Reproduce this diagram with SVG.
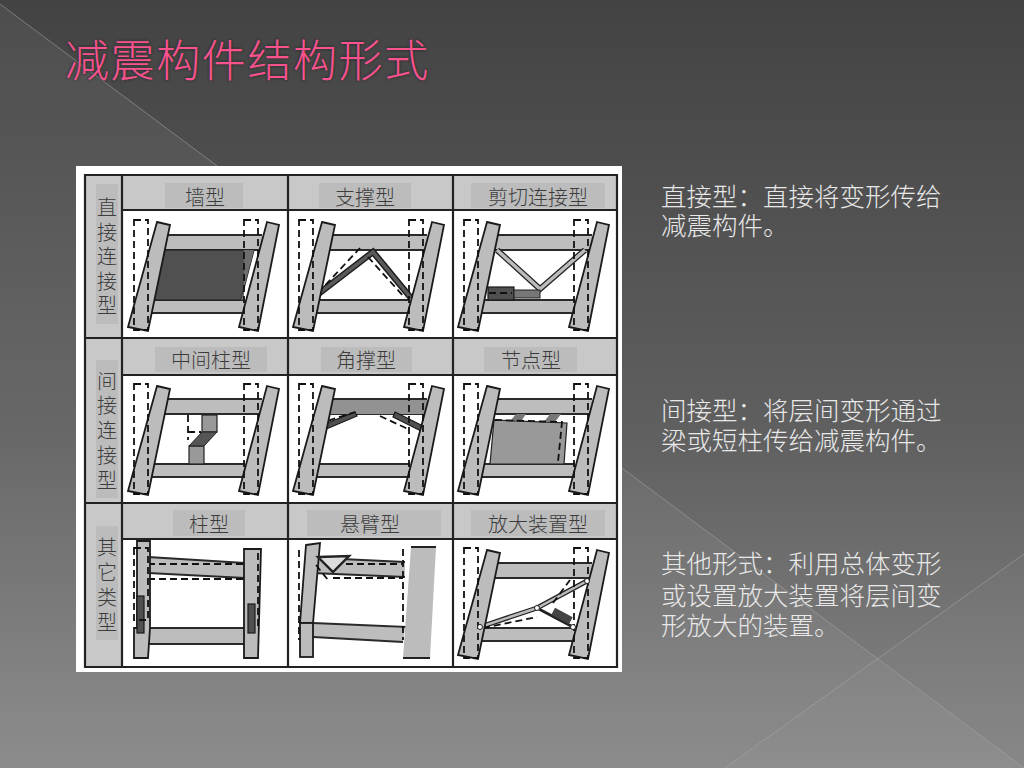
<svg xmlns="http://www.w3.org/2000/svg" width="1024" height="768" viewBox="0 0 1024 768">
<style>
.body{font-family:"Noto Sans CJK SC","Noto Sans CJK JP",serif;font-size:25.5px;fill:#e8e8e8;font-weight:300}
.hd{font-family:"Noto Sans CJK SC","Noto Sans CJK JP",serif;font-size:20px;fill:#3c3c3c;text-anchor:middle;font-weight:300}
.ttl{font-family:"Noto Sans CJK SC",sans-serif;font-size:44px;letter-spacing:1.6px;font-weight:300}
.grid{fill:none;stroke:#222;stroke-width:2.2}
.c{fill:#bcbcbc;stroke:#1a1a1a;stroke-width:1.8}
.b{fill:#bdbdbd;stroke:none}
.e{stroke:#2a2a2a;stroke-width:1.8;fill:none}
.d{fill:none;stroke:#111;stroke-width:1.8;stroke-dasharray:7 4}
.dk{fill:#505050;stroke:#1a1a1a;stroke-width:1.2}
.md{fill:#999;stroke:#222;stroke-width:1.2}
</style>
<defs>
<linearGradient id="bg" x1="0" y1="0" x2="0" y2="1"><stop offset="0" stop-color="#434343"/><stop offset=".26" stop-color="#505050"/><stop offset=".57" stop-color="#606060"/><stop offset="1" stop-color="#868686"/></linearGradient>
<filter id="glow" x="-5%" y="-20%" width="110%" height="140%"><feGaussianBlur stdDeviation="1.4"/></filter>
<g id="beams">
<polygon class="b" points="157,235 262,235 262,250 157,250"/>
<path class="e" d="M157,235H262M150,250H262"/>
<polygon class="b" points="148,300 245,300 245,313 148,313"/>
<path class="e" d="M148,300H245M148,313H245"/>
</g>
<g id="columns">
<polygon class="c" points="157,222 170,225 148,331 128,327"/>
<polygon class="c" points="267,222 279,225 258,331 239,327"/>
<rect class="d" x="134" y="220" width="14" height="110"/>
<rect class="d" x="244" y="220" width="14" height="110"/>
</g>
</defs>
<rect id="background" width="1024" height="768" fill="url(#bg)"/>
<polygon points="0,4 1024,768 0,768" fill="#fff" opacity=".055"/>
<polygon points="1024,554 725,768 1024,768" fill="#fff" opacity=".025"/>
<path d="M0,4L1024,768M1024,554L725,768" fill="none" stroke="#a8a8a8" stroke-width="1" opacity=".55"/>
<g id="title">
<text x="65" y="77" class="ttl" fill="#1c1c1c" filter="url(#glow)" opacity=".8">减震构件结构形式</text>
<text x="65" y="77" class="ttl" fill="#f8528f">减震构件结构形式</text>
</g>
<g id="table">
<rect x="76" y="166" width="546" height="506" fill="#fff"/>
<rect x="86" y="175" width="36" height="492" fill="#c8c8c8"/>
<path fill="#c8c8c8" d="M122,175H617V210H122ZM122,339H617V375H122ZM122,503H617V539H122Z"/>
<path fill="#bcbcbc" d="M96,184H118V324H96ZM96,360H118V498H96ZM96,526H118V640H96ZM165,183H243V208H165ZM319,183H411V208H319ZM471,183H605V208H471ZM155,347H267V372H155ZM321,347H412V372H321ZM484,347H577V372H484ZM173,510H245V536H173ZM307,510H441V536H307ZM471,510H605V536H471Z"/>
<path class="grid" d="M85,175H617V667H85ZM122,175V667M288,175V667M453,175V667M85,338H617M85,503H617M122,210H617M122,375H617M122,539H617"/>
<g class="hd"><text x="205" y="205">墙型</text><text x="365" y="205">支撑型</text><text x="538" y="205">剪切连接型</text><text x="211" y="368">中间柱型</text><text x="366" y="368">角撑型</text><text x="531" y="368">节点型</text><text x="209" y="532">柱型</text><text x="370" y="532">悬臂型</text><text x="538" y="532">放大装置型</text>
<text x="107" y="215"><tspan x="107" y="215">直</tspan><tspan x="107" y="240">接</tspan><tspan x="107" y="264">连</tspan><tspan x="107" y="289">接</tspan><tspan x="107" y="313">型</tspan></text>
<text x="107" y="389"><tspan x="107" y="389">间</tspan><tspan x="107" y="413">接</tspan><tspan x="107" y="438">连</tspan><tspan x="107" y="463">接</tspan><tspan x="107" y="488">型</tspan></text>
<text x="107" y="555"><tspan x="107" y="555">其</tspan><tspan x="107" y="580">它</tspan><tspan x="107" y="605">类</tspan><tspan x="107" y="630">型</tspan></text></g>
</g>
<g id="wall-type"><use href="#beams"/><polygon class="dk" points="165,250 254,250 241,300 153,300"/><polygon points="254,250 244,250 244,300 241,300" fill="#6d6d6d"/><use href="#columns"/></g>
<g id="brace-type"><use href="#beams" x="165"/>
<path d="M313,298L373,252L411,298" fill="none" stroke="#1e1e1e" stroke-width="6.5"/><path d="M313,298L373,252L411,298" fill="none" stroke="#5a5a5a" stroke-width="3.5"/>
<path d="M318,293L360,248M368,257L405,298" class="d"/><use href="#columns" x="165"/></g>
<g id="shear-link-type"><use href="#beams" x="330"/>
<path d="M497,250L540,289L585,250" fill="none" stroke="#222" stroke-width="6"/><path d="M497,250L540,289L585,250" fill="none" stroke="#bbb" stroke-width="3.5"/>
<rect class="dk" x="488" y="287" width="26" height="13"/><rect x="514" y="290" width="26" height="8" fill="#777" stroke="#222"/><path class="d" d="M489,293H512"/><use href="#columns" x="330"/></g>
<g id="mid-column-type"><use href="#beams" y="164"/>
<rect class="md" x="202" y="415" width="15" height="17"/><rect class="md" x="189" y="446" width="15" height="18"/><polygon points="217,432 204,446 189,446 202,432" fill="#555" stroke="#222"/><path class="d" d="M188,415V440M188,432H201"/><use href="#columns" y="164"/></g>
<g id="knee-brace-type"><use href="#beams" x="165" y="164"/><rect x="322" y="400" width="105" height="14" fill="#929292"/>
<polygon points="322,425 355,412 357,416 324,430" class="dk"/><polygon points="395,412 423,426 421,431 393,417" class="dk"/><path class="d" d="M318,424L355,412M380,416L408,429"/><use href="#columns" x="165" y="164"/></g>
<g id="joint-type"><use href="#beams" x="330" y="164"/>
<polygon class="md" points="494,420 567,423 564,464 490,464"/><polygon points="516,414 526,414 522,420 511,420" fill="#777"/><polygon points="550,414 561,414 555,422 544,422" fill="#777"/><path class="d" d="M495,420L562,422L558,462"/><use href="#columns" x="330" y="164"/></g>
<g id="column-type">
<polygon class="b" points="148,557 245,563 245,578 148,573"/><path class="e" d="M148,557L245,563M148,573L245,578"/>
<path class="d" d="M148,564H246M148,579H246"/>
<polygon class="b" points="148,628 245,628 245,644 148,644"/><path class="e" d="M148,628H245M148,644H245"/>
<polygon class="c" points="137,541 150,541 150,628 148,658 134,658 134,628 137,628"/><polygon class="c" points="244,549 261,549 258,658 244,658"/>
<rect class="dk" x="137" y="596" width="7" height="37"/><rect class="dk" x="248" y="604" width="7" height="29"/>
<path class="d" d="M134,548H148V620H134ZM258,553V630"/></g>
<g id="cantilever-type">
<polygon class="b" points="318,558 405,562 405,577 312,573"/><path class="e" d="M320,558L405,562M312,573L405,577"/><path class="d" d="M335,564H403M333,578H403"/>
<polygon class="b" points="313,623 405,628 403,642 313,637"/><path class="e" d="M313,623L430,628M313,637L403,642"/>
<polygon class="c" points="306,545 320,543 313,623 300,623"/><rect class="c" x="300" y="623" width="13" height="34"/>
<polygon points="318,557 349,556 333,572" fill="#ddd" stroke="#222" stroke-width="2.4"/><path class="d" d="M316,565L328,580"/>
<polygon points="411,547 436,547 430,658 403,658" fill="#bcbcbc"/><path d="M411,547H436M403,658H430" stroke="#222" stroke-width="1.8"/>
<path class="d" d="M403,549V640M299,550V640"/></g>
<g id="amplifier-type"><use href="#beams" x="330" y="328"/>
<path d="M480,627L537,608L587,581" stroke="#222" stroke-width="5" fill="none"/><path d="M480,627L537,608L587,581" stroke="#bbb" stroke-width="2.5" fill="none"/>
<path d="M537,608L573,627" stroke="#222" stroke-width="3"/><rect x="552" y="612" width="20" height="8" fill="#444" transform="rotate(28 562 616)"/>
<path class="d" d="M483,628L537,617M553,603L570,580"/><use href="#columns" x="330" y="328"/>
<g fill="#fff" stroke="#222" stroke-width="1"><circle cx="480" cy="627" r="2.5"/><circle cx="537" cy="608" r="2.5"/><circle cx="587" cy="581" r="2.5"/><circle cx="573" cy="627" r="2.5"/></g></g>
<g id="notes" class="body">
<text x="661" y="206"><tspan x="661" y="206">直接型：直接将变形传给</tspan><tspan x="661" y="235">减震构件。</tspan></text>
<text x="661" y="420"><tspan x="661" y="420">间接型：将层间变形通过</tspan><tspan x="661" y="450">梁或短柱传给减震构件。</tspan></text>
<text x="661" y="573"><tspan x="661" y="573">其他形式：利用总体变形</tspan><tspan x="661" y="605">或设置放大装置将层间变</tspan><tspan x="661" y="635">形放大的装置。</tspan></text>
</g>
</svg>
